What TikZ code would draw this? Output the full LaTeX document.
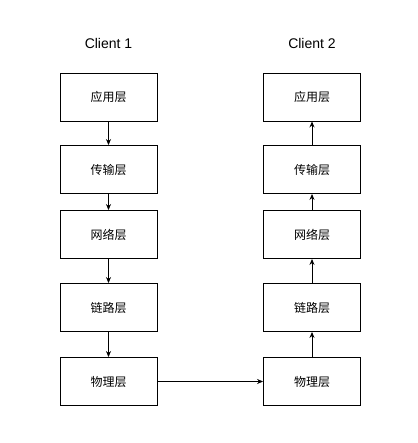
\documentclass[tikz,border=0pt]{standalone}
\usepackage{fontspec}
\setmainfont{Liberation Sans}
\newfontfamily\cjk{Noto Sans CJK SC}
\usetikzlibrary{arrows.meta,positioning}
\tikzset{
  layer/.style={draw, line width=0.9pt, minimum width=97pt, minimum height=48pt,
    inner sep=0pt, font=\cjk\fontsize{12}{14}\selectfont},
  link/.style={line width=0.8pt, -{Stealth[length=6pt,width=5pt]}},
  title/.style={font=\fontsize{14}{16}\selectfont}
}

\begin{document}
\begin{tikzpicture}[x=1pt,y=-1pt]
  \useasboundingbox (0,0) rectangle (417,443);
  \def\xl{108.5}
  \def\xr{312}
  \node[title] (c1) at (\xl,44){Client 1};
  \node[title] (c2) at (\xr,44){Client 2};
  % sender stack
  \node[layer] (l1) at (\xl,97){应用层};
  \node[layer] (l2) at (\xl,169.5){传输层};
  \node[layer] (l3) at (\xl,234.5){网络层};
  \node[layer] (l4) at (\xl,307.5){链路层};
  \node[layer] (l5) at (\xl,381.5){物理层};
  % receiver stack
  \node[layer] (r1) at (\xr,97){应用层};
  \node[layer] (r2) at (\xr,169.5){传输层};
  \node[layer] (r3) at (\xr,234.5){网络层};
  \node[layer] (r4) at (\xr,307.5){链路层};
  \node[layer] (r5) at (\xr,381.5){物理层};
  \draw[link](l1)--(l2);
  \draw[link](l2)--(l3);
  \draw[link](l3)--(l4);
  \draw[link](l4)--(l5);
  \draw[link](l5)--(r5);
  \draw[link](r5)--(r4);
  \draw[link](r4)--(r3);
  \draw[link](r3)--(r2);
  \draw[link](r2)--(r1);
\end{tikzpicture}
\end{document}
